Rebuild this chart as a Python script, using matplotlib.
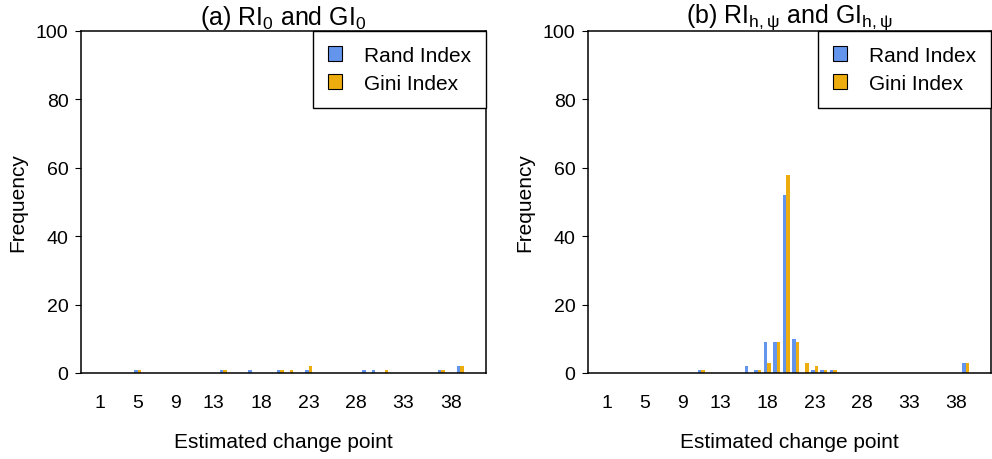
import matplotlib
matplotlib.use("Agg")
import matplotlib.pyplot as plt
import numpy as np

plt.rcParams['font.family'] = ['Liberation Sans', 'DejaVu Sans']
plt.rcParams['mathtext.fontset'] = 'custom'
plt.rcParams['mathtext.rm'] = 'Liberation Sans'
plt.rcParams['mathtext.it'] = 'Liberation Sans'

# data
tick_points = [1, 5, 9, 13, 18, 23, 28, 33, 38]

a_points = [5, 14, 17, 20, 21, 23, 29, 30, 31, 37, 39]
a_rand = [1, 1, 1, 1, 0, 1, 1, 1, 0, 1, 2]
a_gini = [1, 1, 0, 1, 1, 2, 0, 0, 1, 1, 2]

b_points = [11, 16, 17, 18, 19, 20, 21, 22, 23, 24, 25, 39]
b_rand = [1, 2, 1, 9, 9, 52, 10, 0, 1, 1, 1, 3]
b_gini = [1, 0, 1, 3, 9, 58, 9, 3, 2, 1, 1, 3]

titles = [r"(a) RI$_\mathregular{0}$ and GI$_\mathregular{0}$",
          r"(b) RI$_{h,\psi}$ and GI$_{h,\psi}$"]

blue = "#6495ED"
orange = "#EEAD0E"
width = 0.37

fig = plt.figure(figsize=(9.92, 4.6), dpi=100)
ax1 = fig.add_axes([81 / 992, 1 - 374 / 460, 405 / 992, 342 / 460])
ax2 = fig.add_axes([588 / 992, 1 - 374 / 460, 403 / 992, 342 / 460])

panels = [(ax1, a_points, a_rand, a_gini), (ax2, b_points, b_rand, b_gini)]
for i, (ax, pts, rand, gini) in enumerate(panels):
    pts = np.array(pts)
    ax.bar(pts - width / 2, rand, width, color=blue, label="Rand Index")
    ax.bar(pts + width / 2, gini, width, color=orange, label="Gini Index")
    ax.set_xlim(-1, 41.7)
    ax.set_ylim(0, 100)
    ax.set_xticks(tick_points)
    ax.set_yticks([0, 20, 40, 60, 80, 100])
    ax.tick_params(axis='x', length=0, pad=15, labelsize=14)
    ax.tick_params(axis='y', length=4, pad=5, labelsize=14)
    ax.set_xlabel("Estimated change point", fontsize=15, labelpad=15)
    ax.set_ylabel("Frequency", fontsize=15, labelpad=6)
    ax.set_title(titles[i], fontsize=18, pad=1)
    for s in ax.spines.values():
        s.set_linewidth(1.1)
    leg = ax.legend(loc="upper right", borderaxespad=0, fancybox=False,
                    edgecolor="black", framealpha=1, fontsize=15,
                    handlelength=0.7, handleheight=0.7, handletextpad=1.05,
                    borderpad=0.7, labelspacing=0.45)
    leg.get_frame().set_linewidth(1.0)
    for h in leg.legend_handles:
        h.set_edgecolor("black")
        h.set_linewidth(0.8)

fig.savefig("out.png", dpi=100)
